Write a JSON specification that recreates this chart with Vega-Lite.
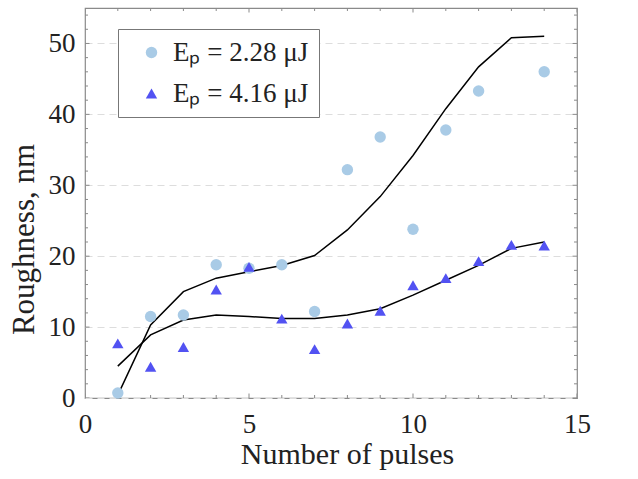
{
  "$schema": "https://vega.github.io/schema/vega-lite/v6.json",
  "width": 492,
  "height": 390,
  "autosize": "none",
  "padding": {"left": 85, "top": 8, "right": 61, "bottom": 81},
  "background": "white",
  "config": {
    "view": {"stroke": "#8a8a8a", "strokeWidth": 1.2},
    "font": "Liberation Serif",
    "axis": {"domain": false, "labelFont": "Liberation Serif", "titleFont": "Liberation Serif", "labelColor": "#222", "titleColor": "#222", "titleFontWeight": "normal", "labelFlush": false, "grid": false}
  },
  "datasets": {
    "pts": [
      {"n": 1, "r": 0.7, "s": "Eₚ = 2.28 μJ"},
      {"n": 2, "r": 11.5, "s": "Eₚ = 2.28 μJ"},
      {"n": 3, "r": 11.7, "s": "Eₚ = 2.28 μJ"},
      {"n": 4, "r": 18.8, "s": "Eₚ = 2.28 μJ"},
      {"n": 5, "r": 18.3, "s": "Eₚ = 2.28 μJ"},
      {"n": 6, "r": 18.8, "s": "Eₚ = 2.28 μJ"},
      {"n": 7, "r": 12.2, "s": "Eₚ = 2.28 μJ"},
      {"n": 8, "r": 32.2, "s": "Eₚ = 2.28 μJ"},
      {"n": 9, "r": 36.8, "s": "Eₚ = 2.28 μJ"},
      {"n": 10, "r": 23.8, "s": "Eₚ = 2.28 μJ"},
      {"n": 11, "r": 37.8, "s": "Eₚ = 2.28 μJ"},
      {"n": 12, "r": 43.3, "s": "Eₚ = 2.28 μJ"},
      {"n": 14, "r": 46.0, "s": "Eₚ = 2.28 μJ"},
      {"n": 1, "r": 7.7, "s": "Eₚ = 4.16 μJ"},
      {"n": 2, "r": 4.4, "s": "Eₚ = 4.16 μJ"},
      {"n": 3, "r": 7.2, "s": "Eₚ = 4.16 μJ"},
      {"n": 4, "r": 15.3, "s": "Eₚ = 4.16 μJ"},
      {"n": 5, "r": 18.5, "s": "Eₚ = 4.16 μJ"},
      {"n": 6, "r": 11.2, "s": "Eₚ = 4.16 μJ"},
      {"n": 7, "r": 6.9, "s": "Eₚ = 4.16 μJ"},
      {"n": 8, "r": 10.5, "s": "Eₚ = 4.16 μJ"},
      {"n": 9, "r": 12.3, "s": "Eₚ = 4.16 μJ"},
      {"n": 10, "r": 15.9, "s": "Eₚ = 4.16 μJ"},
      {"n": 11, "r": 16.9, "s": "Eₚ = 4.16 μJ"},
      {"n": 12, "r": 19.3, "s": "Eₚ = 4.16 μJ"},
      {"n": 13, "r": 21.6, "s": "Eₚ = 4.16 μJ"},
      {"n": 14, "r": 21.5, "s": "Eₚ = 4.16 μJ"}
    ],
    "fit": [
      {"n": 1, "r": 0.4, "s": "a"},
      {"n": 2, "r": 10.3, "s": "a"},
      {"n": 3, "r": 15.0, "s": "a"},
      {"n": 4, "r": 16.9, "s": "a"},
      {"n": 5, "r": 17.8, "s": "a"},
      {"n": 6, "r": 18.7, "s": "a"},
      {"n": 7, "r": 20.1, "s": "a"},
      {"n": 8, "r": 23.7, "s": "a"},
      {"n": 9, "r": 28.4, "s": "a"},
      {"n": 10, "r": 34.2, "s": "a"},
      {"n": 11, "r": 40.8, "s": "a"},
      {"n": 12, "r": 46.7, "s": "a"},
      {"n": 13, "r": 50.8, "s": "a"},
      {"n": 14, "r": 51.0, "s": "a"},
      {"n": 1, "r": 4.5, "s": "b"},
      {"n": 2, "r": 8.9, "s": "b"},
      {"n": 3, "r": 11.0, "s": "b"},
      {"n": 4, "r": 11.7, "s": "b"},
      {"n": 5, "r": 11.5, "s": "b"},
      {"n": 6, "r": 11.2, "s": "b"},
      {"n": 7, "r": 11.2, "s": "b"},
      {"n": 8, "r": 11.7, "s": "b"},
      {"n": 9, "r": 12.6, "s": "b"},
      {"n": 10, "r": 14.5, "s": "b"},
      {"n": 11, "r": 16.6, "s": "b"},
      {"n": 12, "r": 18.7, "s": "b"},
      {"n": 13, "r": 21.1, "s": "b"},
      {"n": 14, "r": 22.0, "s": "b"}
    ],
    "xticks": [
      {"v": 0, "m": 1}, {"v": 1, "m": 0}, {"v": 2, "m": 0}, {"v": 3, "m": 0}, {"v": 4, "m": 0},
      {"v": 5, "m": 1}, {"v": 6, "m": 0}, {"v": 7, "m": 0}, {"v": 8, "m": 0}, {"v": 9, "m": 0},
      {"v": 10, "m": 1}, {"v": 11, "m": 0}, {"v": 12, "m": 0}, {"v": 13, "m": 0}, {"v": 14, "m": 0},
      {"v": 15, "m": 1}
    ],
    "yticks": [
      {"v": 0, "m": 1}, {"v": 2, "m": 0}, {"v": 4, "m": 0}, {"v": 6, "m": 0}, {"v": 8, "m": 0},
      {"v": 10, "m": 1}, {"v": 12, "m": 0}, {"v": 14, "m": 0}, {"v": 16, "m": 0}, {"v": 18, "m": 0},
      {"v": 20, "m": 1}, {"v": 22, "m": 0}, {"v": 24, "m": 0}, {"v": 26, "m": 0}, {"v": 28, "m": 0},
      {"v": 30, "m": 1}, {"v": 32, "m": 0}, {"v": 34, "m": 0}, {"v": 36, "m": 0}, {"v": 38, "m": 0},
      {"v": 40, "m": 1}, {"v": 42, "m": 0}, {"v": 44, "m": 0}, {"v": 46, "m": 0}, {"v": 48, "m": 0},
      {"v": 50, "m": 1}, {"v": 52, "m": 0}, {"v": 54, "m": 0}
    ]
  },
  "resolve": {"axis": {"x": "independent", "y": "independent"}},
  "layer": [
    {
      "data": {"name": "fit"},
      "mark": {"type": "line", "color": "black", "strokeWidth": 1.5, "interpolate": "linear"},
      "encoding": {
        "x": {"field": "n", "type": "quantitative", "scale": {"domain": [0, 15], "nice": false, "zero": false},
          "axis": {"orient": "bottom", "values": [0, 5, 10, 15], "ticks": false, "labelPadding": 13, "labelFontSize": 27, "title": "Number of pulses", "titleFontSize": 30, "titleBaseline": "alphabetic", "titleY": 65, "titleX": 262, "titleAnchor": "middle"}},
        "y": {"field": "r", "type": "quantitative", "scale": {"domain": [0, 55], "nice": false, "zero": false},
          "axis": {"orient": "left", "values": [0, 10, 20, 30, 40, 50], "ticks": false, "labelPadding": 10, "labelFontSize": 27, "title": "Roughness, nm", "titleFontSize": 31, "titleBaseline": "alphabetic", "titleX": -52, "titleY": 231, "titleAnchor": "middle", "grid": true, "gridColor": "#dddddd", "gridDash": [7, 5], "gridWidth": 1}},
        "detail": {"field": "s"}
      }
    },
    {
      "data": {"name": "xticks"},
      "mark": {"type": "tick", "orient": "vertical", "clip": true, "color": "#8a8a8a", "thickness": 1, "opacity": 1},
      "encoding": {
        "x": {"field": "v", "type": "quantitative", "axis": null},
        "y": {"datum": 0, "type": "quantitative", "axis": null},
        "size": {"condition": {"test": "datum.m === 1", "value": 9}, "value": 6}
      }
    },
    {
      "data": {"name": "xticks"},
      "mark": {"type": "tick", "orient": "vertical", "clip": true, "color": "#8a8a8a", "thickness": 1, "opacity": 1},
      "encoding": {
        "x": {"field": "v", "type": "quantitative", "axis": null},
        "y": {"datum": 55, "type": "quantitative", "axis": null},
        "size": {"condition": {"test": "datum.m === 1", "value": 9}, "value": 6}
      }
    },
    {
      "data": {"name": "yticks"},
      "mark": {"type": "tick", "orient": "horizontal", "clip": true, "color": "#8a8a8a", "thickness": 1, "opacity": 1},
      "encoding": {
        "y": {"field": "v", "type": "quantitative", "axis": null},
        "x": {"datum": 0, "type": "quantitative", "axis": null},
        "size": {"condition": {"test": "datum.m === 1", "value": 9}, "value": 6}
      }
    },
    {
      "data": {"name": "yticks"},
      "mark": {"type": "tick", "orient": "horizontal", "clip": true, "color": "#8a8a8a", "thickness": 1, "opacity": 1},
      "encoding": {
        "y": {"field": "v", "type": "quantitative", "axis": null},
        "x": {"datum": 15, "type": "quantitative", "axis": null},
        "size": {"condition": {"test": "datum.m === 1", "value": 9}, "value": 6}
      }
    },
    {
      "data": {"name": "pts"},
      "mark": {"type": "point", "filled": true, "opacity": 1},
      "encoding": {
        "x": {"field": "n", "type": "quantitative", "axis": null},
        "y": {"field": "r", "type": "quantitative", "axis": null},
        "color": {"field": "s", "type": "nominal", "scale": {"domain": ["Eₚ = 2.28 μJ", "Eₚ = 4.16 μJ"], "range": ["#a9cbe6", "#5252f2"]},
          "legend": {"title": null, "orient": "none", "legendX": 33, "legendY": 21, "labelFont": "Liberation Serif", "labelFontSize": 27, "labelColor": "#222", "strokeColor": "#777", "fillColor": "white", "padding": 10, "rowPadding": 13, "symbolSize": 130, "labelOffset": 8, "symbolOffset": 10, "labelLimit": 300}},
        "shape": {"field": "s", "type": "nominal", "scale": {"domain": ["Eₚ = 2.28 μJ", "Eₚ = 4.16 μJ"], "range": ["circle", "triangle-up"]}},
        "size": {"value": 130}
      }
    }
  ]
}
